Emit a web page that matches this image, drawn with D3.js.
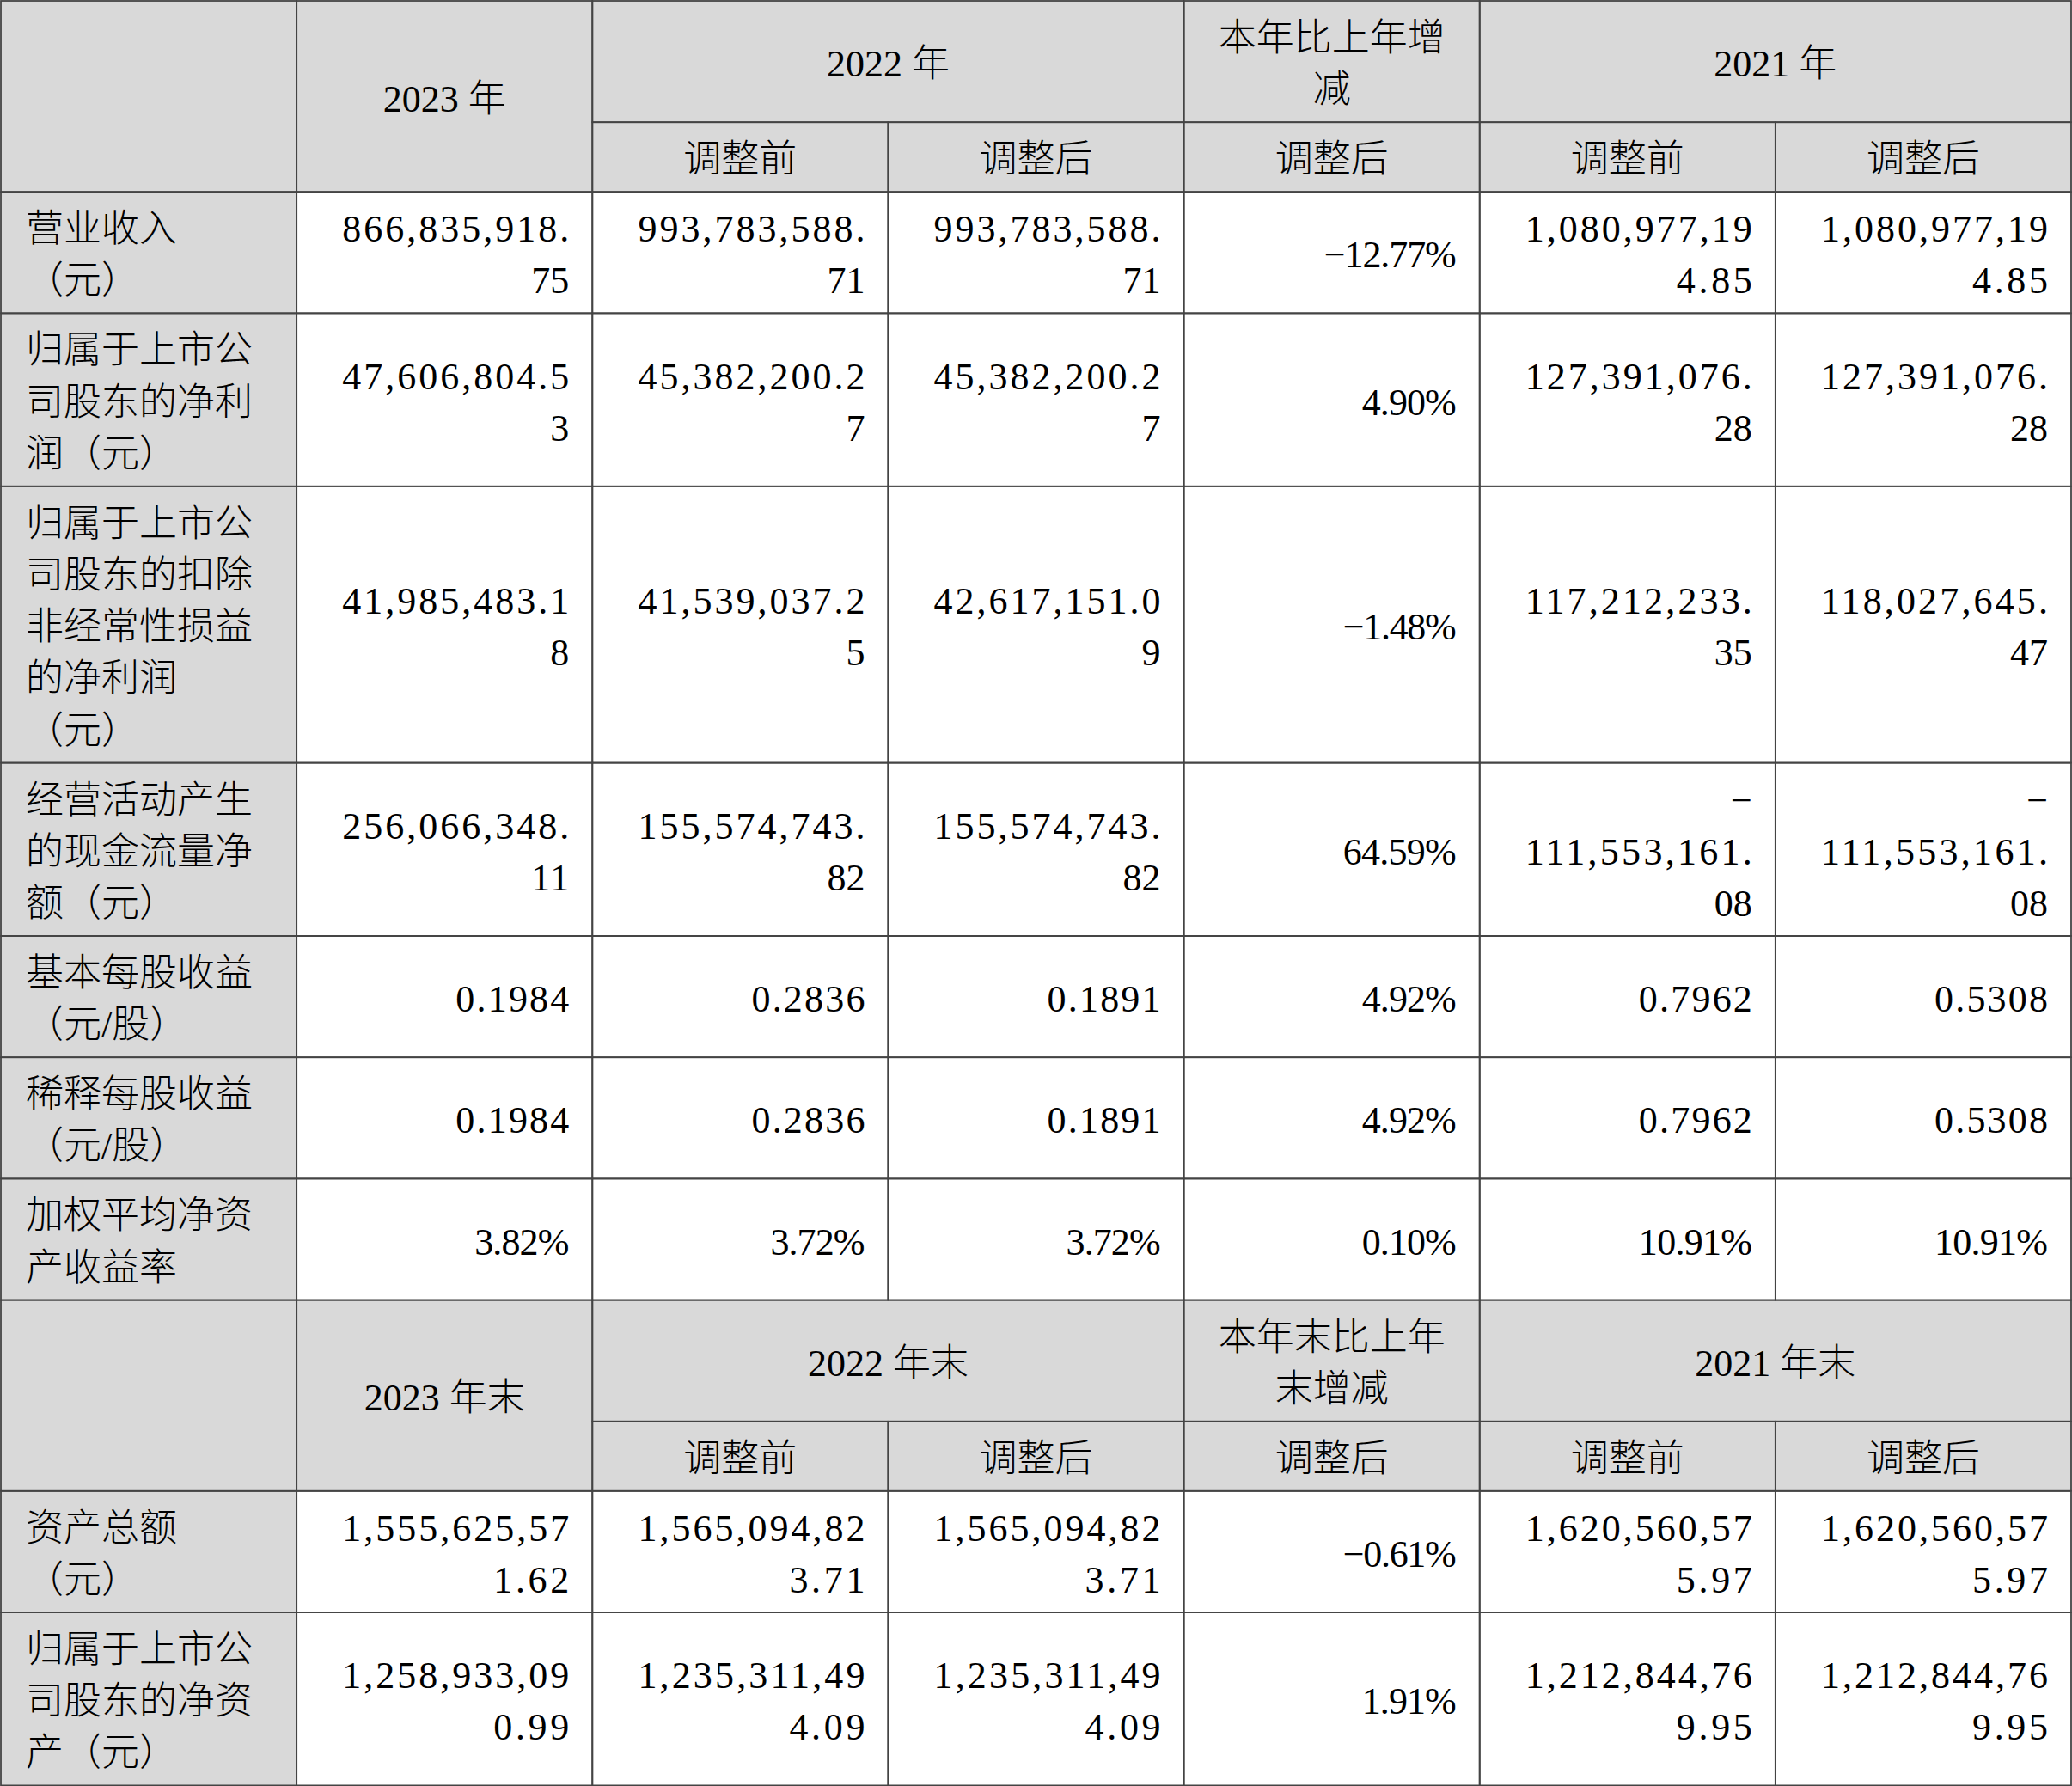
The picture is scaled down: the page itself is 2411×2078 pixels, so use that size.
<!DOCTYPE html>
<html><head><meta charset="utf-8">
<script src="https://cdn.jsdelivr.net/npm/d3@7"></script>
<style>html,body{margin:0;padding:0;background:#fff;} svg{display:block}</style>
</head><body><svg id="c" width="2411" height="2078"></svg>
<script>
// ---------- data ----------
const flowYearHeaders = ["2023 年", "2022 年", "本年比上年增减", "2021 年"];
const balanceYearHeaders = ["2023 年末", "2022 年末", "本年末比上年末增减", "2021 年末"];
const subHeaders = ["调整前", "调整后", "调整后", "调整前", "调整后"];

const flowItems = [
  "营业收入（元）",
  "归属于上市公司股东的净利润（元）",
  "归属于上市公司股东的扣除非经常性损益的净利润（元）",
  "经营活动产生的现金流量净额（元）",
  "基本每股收益（元/股）",
  "稀释每股收益（元/股）",
  "加权平均净资产收益率"
];
const flow2023 = ["866,835,918.75", "47,606,804.53", "41,985,483.18", "256,066,348.11", "0.1984", "0.1984", "3.82%"];
const flow2022Before = ["993,783,588.71", "45,382,200.27", "41,539,037.25", "155,574,743.82", "0.2836", "0.2836", "3.72%"];
const flow2022After = ["993,783,588.71", "45,382,200.27", "42,617,151.09", "155,574,743.82", "0.1891", "0.1891", "3.72%"];
const flowChange = ["-12.77%", "4.90%", "-1.48%", "64.59%", "4.92%", "4.92%", "0.10%"];
const flow2021Before = ["1,080,977,194.85", "127,391,076.28", "117,212,233.35", "-111,553,161.08", "0.7962", "0.7962", "10.91%"];
const flow2021After = ["1,080,977,194.85", "127,391,076.28", "118,027,645.47", "-111,553,161.08", "0.5308", "0.5308", "10.91%"];

const balanceItems = ["资产总额（元）", "归属于上市公司股东的净资产（元）"];
const bal2023 = ["1,555,625,571.62", "1,258,933,090.99"];
const bal2022Before = ["1,565,094,823.71", "1,235,311,494.09"];
const bal2022After = ["1,565,094,823.71", "1,235,311,494.09"];
const balChange = ["-0.61%", "1.91%"];
const bal2021Before = ["1,620,560,575.97", "1,212,844,769.95"];
const bal2021After = ["1,620,560,575.97", "1,212,844,769.95"];

// ---------- layout helpers ----------
const FS = 44, LINE = 60.2, PAD = 20.8, UNIT = FS / 2, MAXU = 12;
const GRAY = "#d9d9d9", STROKE = "#444";
const isWide = ch => /[\u2e80-\u9fff\uff00-\uffef\u3000-\u303f]/.test(ch);
const units = s => Array.from(s).reduce((a, ch) => a + (isWide(ch) ? 2 : 1), 0);
const noStart = "）%.,、。";
const noEnd = "（";

function wrap(text) {
  if (!text) return [""];
  const out = [];
  let rest = text;
  if (!/[\u4e00-\u9fff]/.test(text) && text[0] === "-" && units(text) > MAXU) { out.push("-"); rest = text.slice(1); }
  let cur = "";
  const lines = [];
  for (const ch of Array.from(rest)) {
    if (units(cur + ch) > MAXU) { lines.push(cur); cur = ch; }
    else cur += ch;
  }
  lines.push(cur);
  if (/[\u4e00-\u9fff]/.test(text)) {
    for (let i = 1; i < lines.length; i++) {
      while ((noStart.includes(lines[i][0]) || noEnd.includes(lines[i - 1].slice(-1))) && lines[i - 1].length > 1) {
        lines[i] = lines[i - 1].slice(-1) + lines[i];
        lines[i - 1] = lines[i - 1].slice(0, -1);
      }
    }
  }
  return out.concat(lines);
}

// ---------- build table rows ----------
function headerRows(years) {
  return [
    [
      {col: 0, colspan: 1, rowspan: 2, text: "", align: "middle", fill: GRAY},
      {col: 1, colspan: 1, rowspan: 2, text: years[0], align: "middle", fill: GRAY},
      {col: 2, colspan: 2, rowspan: 1, text: years[1], align: "middle", fill: GRAY},
      {col: 4, colspan: 1, rowspan: 1, text: years[2], align: "middle", fill: GRAY},
      {col: 5, colspan: 2, rowspan: 1, text: years[3], align: "middle", fill: GRAY}
    ],
    subHeaders.map((t, i) => ({col: i + 2, colspan: 1, rowspan: 1, text: t, align: "middle", fill: GRAY}))
  ];
}
function dataRows(items, cols) {
  return items.map((label, r) => [
    {col: 0, colspan: 1, rowspan: 1, text: label, align: "start", fill: GRAY}
  ].concat(cols.map((arr, c) => ({col: c + 1, colspan: 1, rowspan: 1, text: arr[r], align: "end", fill: "#fff"}))));
}

const rows = [].concat(
  headerRows(flowYearHeaders),
  dataRows(flowItems, [flow2023, flow2022Before, flow2022After, flowChange, flow2021Before, flow2021After]),
  headerRows(balanceYearHeaders),
  dataRows(balanceItems, [bal2023, bal2022Before, bal2022After, balChange, bal2021Before, bal2021After])
);

rows.forEach(row => row.forEach(c => c.lines = wrap(c.text)));
const rowLines = rows.map(row => d3.max(row.filter(c => c.rowspan === 1), c => c.lines.length) || 1);
const rowH = rowLines.map(n => n * LINE + PAD);
const rowY = [1].concat(Array.from(d3.cumsum(rowH), v => v + 1));

const x = d3.scaleLinear().domain([0, 7]).range([1, 2410]);

const cells = [];
rows.forEach((row, r) => row.forEach(c => {
  const y0 = rowY[r], y1 = rowY[r + c.rowspan];
  cells.push(Object.assign({}, c, {x0: x(c.col), x1: x(c.col + c.colspan), y0, y1}));
}));

// ---------- draw ----------
const svg = d3.select("#c");
svg.append("rect").attr("width", 2411).attr("height", 2078).attr("fill", "#fff");

const g = svg.selectAll("g.cell").data(cells).join("g").attr("class", "cell");
g.append("rect")
  .attr("x", d => d.x0).attr("y", d => d.y0)
  .attr("width", d => d.x1 - d.x0).attr("height", d => d.y1 - d.y0)
  .attr("fill", d => d.fill);

g.each(function(d) {
  const sel = d3.select(this);
  const n = d.lines.length;
  const cy = (d.y0 + d.y1) / 2;
  const tx = d.align === "start" ? d.x0 + 29 : d.align === "end" ? d.x1 - 27 : (d.x0 + d.x1) / 2;
  d.lines.forEach((ln, i) => {
    if (!ln) return;
    const shown = ln.replace(/^-/, "\u2212");
    const t = sel.append("text")
      .attr("x", tx)
      .attr("y", cy + (i - (n - 1) / 2) * LINE + 17.5)
      .attr("text-anchor", d.align)
      .attr("font-family", "'Liberation Serif', 'Noto Sans CJK SC', serif")
      .attr("font-weight", 300)
      .attr("font-size", FS)
      .attr("fill", "#000")
      .text(shown);
    if (!/[\u2e80-\u9fff\uff00-\uffef]/.test(ln) && ln.length > 1) {
      t.attr("textLength", units(ln) * UNIT).attr("lengthAdjust", "spacing");
    }
  });
});

// grid lines drawn on top
svg.selectAll("rect.border").data(cells).join("rect").attr("class", "border")
  .attr("x", d => d.x0).attr("y", d => d.y0)
  .attr("width", d => d.x1 - d.x0).attr("height", d => d.y1 - d.y0)
  .attr("fill", "none").attr("stroke", STROKE).attr("stroke-width", 1.8);
</script>
</body></html>
